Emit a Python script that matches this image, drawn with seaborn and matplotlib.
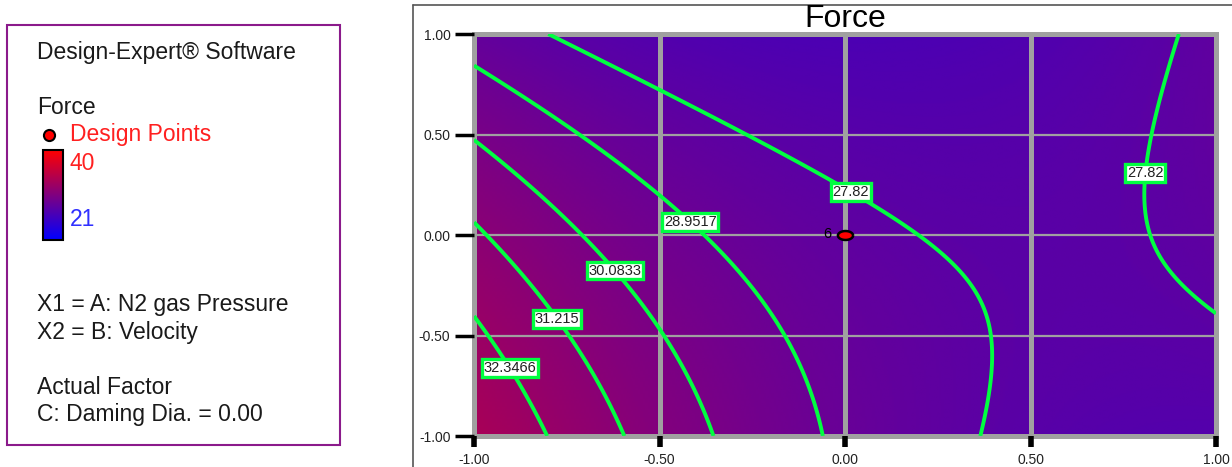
import numpy as np
import matplotlib
matplotlib.use("Agg")
import matplotlib.pyplot as plt
from matplotlib.colors import LinearSegmentedColormap
from matplotlib.lines import Line2D
from matplotlib.patches import Rectangle
import seaborn as sns

# quadratic model for Force in coded factors A (N2 gas pressure), B (velocity), C = 0
coef_names = ['Intercept', 'A', 'B', 'AB', 'A^2', 'B^2']
coef_values = [28.085, -1.663, -1.055, 1.50, 1.63, -0.383]

contour_levels = [27.82, 28.9517, 30.0833, 31.215, 32.3466]
label_spots = [(0.03, 0.26), (0.80, 0.31), (-0.40, 0.10), (-0.61, -0.16),
               (-0.77, -0.41), (-0.91, -0.67)]

design_A = [0.0]
design_B = [0.0]
design_runs = ['6']

ticks = [-1.0, -0.5, 0.0, 0.5, 1.0]
tick_labels = ['-1.00', '-0.50', '0.00', '0.50', '1.00']
force_low, force_high = 21, 40

sns.set_theme(style="white")
plt.rcParams['font.family'] = ['Liberation Sans', 'DejaVu Sans']

W, H = 1232, 467
fig = plt.figure(figsize=(W / 100, H / 100), dpi=100)
cmap = LinearSegmentedColormap.from_list('de', ['#0000ff', '#ff0000'])

# surface from the model
a = np.linspace(-1, 1, 301)
A, B = np.meshgrid(a, a)
b = dict(zip(coef_names, coef_values))
F = (b['Intercept'] + b['A'] * A + b['B'] * B + b['AB'] * A * B
     + b['A^2'] * A ** 2 + b['B^2'] * B ** 2)

ax = fig.add_axes([474 / W, 1 - 436 / H, 742 / W, 402 / H])
im = ax.imshow(F, extent=[-1, 1, -1, 1], origin='lower', cmap=cmap,
               vmin=force_low, vmax=force_high, aspect='auto', interpolation='bilinear')
cs = ax.contour(A, B, F, levels=contour_levels, colors='#00ff40', linewidths=2.8, zorder=3)
fmt = {lv: f'{lv:g}' for lv in contour_levels}
labels = ax.clabel(cs, fmt=fmt, fontsize=10.5, inline=False, manual=label_spots)
for t in labels:
    t.set_rotation(0)
    t.set_color('#202020')
    t.set_bbox(dict(boxstyle='square,pad=0.12', facecolor='white', edgecolor='#00ff40', linewidth=2.4))
    t.set_zorder(5)

sns.scatterplot(x=design_A, y=design_B, ax=ax, s=120, color='#ff0000', edgecolor='black',
                linewidth=1.8, zorder=6, legend=False,
                marker=np.c_[1.7 * np.cos(np.linspace(0, 2 * np.pi, 40)), np.sin(np.linspace(0, 2 * np.pi, 40))])
for xa, yb, r in zip(design_A, design_B, design_runs):
    ax.annotate(r, (xa, yb), xytext=(-10, 0.5), textcoords='offset points', ha='right',
                va='center', fontsize=10.5, color='black', zorder=7)

ax.set_xlim(-1, 1)
ax.set_ylim(-1, 1)
ax.set_xticks(ticks)
ax.set_xticklabels(tick_labels)
ax.set_yticks(ticks)
ax.set_yticklabels(tick_labels)
ax.set_axisbelow(False)
ax.xaxis.grid(True, color='#a0a0a0', linewidth=3.6)
ax.yaxis.grid(True, color='#a0a0a0', linewidth=1.6)
for s in ax.spines.values():
    s.set_color('#a0a0a0')
    s.set_linewidth(3.6)
ax.tick_params(axis='y', left=True, length=14, width=2.5, color='black', pad=3,
               labelsize=10, labelcolor='#222222')
ax.tick_params(axis='x', bottom=True, length=8, width=4, color='black', pad=4,
               labelsize=10, labelcolor='#222222')
ax.set_xlabel('')
ax.set_ylabel('')
fig.text(845 / W, 1 - 27 / H, 'Force', ha='center', va='baseline', fontsize=23, color='black')

# right panel frame
fig.add_artist(Line2D([413 / W, 1], [1 - 5 / H] * 2, color='#555555', lw=1.2, transform=fig.transFigure))
fig.add_artist(Line2D([413 / W] * 2, [0, 1 - 5 / H], color='#555555', lw=1.2, transform=fig.transFigure))

# legend panel
fig.add_artist(Rectangle((7 / W, 1 - 445 / H), 333 / W, 420 / H, fill=False,
                         edgecolor='#8b1a8b', lw=1.5, transform=fig.transFigure))
txt = dict(ha='left', va='center', fontsize=16.5, color='#1a1a1a')
fig.text(37 / W, 1 - 52 / H, 'Design-Expert® Software', **txt)
fig.text(37 / W, 1 - 107 / H, 'Force', **txt)
fig.text(70 / W, 1 - 135 / H, 'Design Points', **{**txt, 'color': '#ff2020'})
fig.add_artist(Line2D([49 / W], [1 - 135 / H], marker='o', markersize=8, markerfacecolor='#ff0000',
                      markeredgecolor='black', markeredgewidth=1.5, transform=fig.transFigure))
cax = fig.add_axes([43 / W, 1 - 240 / H, 20 / W, 90 / H])
cb = fig.colorbar(im, cax=cax, ticks=[])
cb.outline.set_edgecolor('black')
cb.outline.set_linewidth(1.5)
fig.text(70 / W, 1 - 164 / H, f'{force_high}', **{**txt, 'color': '#ff2020'})
fig.text(70 / W, 1 - 220 / H, f'{force_low}', **{**txt, 'color': '#3030ff'})
fig.text(37 / W, 1 - 304 / H, 'X1 = A: N2 gas Pressure', **txt)
fig.text(37 / W, 1 - 332 / H, 'X2 = B: Velocity', **txt)
fig.text(37 / W, 1 - 387 / H, 'Actual Factor', **txt)
fig.text(37 / W, 1 - 415 / H, 'C: Daming Dia. = 0.00', **txt)

fig.savefig('out.png', dpi=100, facecolor='white')
